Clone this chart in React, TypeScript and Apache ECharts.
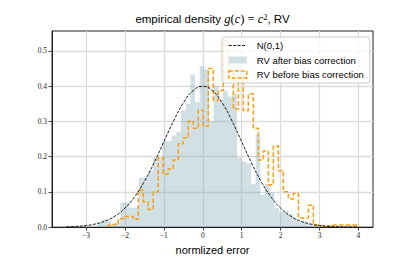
import React, { useEffect, useRef } from "react";
import * as echarts from "echarts";

// histogram of the error after bias correction (50 bins)
const afterStart = -2.72;
const afterBinWidth = 0.12;
const afterHeights = [
  0.012, 0.022, 0.018, 0.007, 0.012, 0.07, 0.07, 0.055, 0.057, 0.14,
  0.14, 0.16, 0.197, 0.197, 0.244, 0.244, 0.26, 0.27, 0.33, 0.35,
  0.433, 0.355, 0.456, 0.447, 0.3, 0.4, 0.36, 0.387, 0.37, 0.378,
  0.197, 0.185, 0.18, 0.123, 0.262, 0.092, 0.123, 0.098, 0.054, 0.043,
  0.046, 0.037, 0.023, 0.016, 0.016, 0.01, 0.005, 0.004, 0.004, 0.003,
];

// histogram of the error before bias correction (50 bins)
const beforeStart = -2.43;
const beforeBinWidth = 0.1286;
const beforeHeights = [
  0.005, 0.008, 0.024, 0.03, 0.03, 0.022, 0.105, 0.072, 0.05, 0.1,
  0.197, 0.15, 0.165, 0.19, 0.236, 0.253, 0.3, 0.28, 0.331, 0.286,
  0.45, 0.36, 0.387, 0.53, 0.44, 0.335, 0.43, 0.33, 0.378, 0.28,
  0.19, 0.216, 0.12, 0.23, 0.16, 0.1, 0.08, 0.096, 0.026, 0.026,
  0.062, 0.006, 0.003, 0.003, 0.003, 0.006, 0.006, 0.006, 0.006, 0.006,
];

// N(0,1) density read at regular points
const normX = [
  -3.5, -3.25, -3, -2.75, -2.5, -2.25, -2, -1.75, -1.5, -1.25, -1, -0.75, -0.5, -0.25, 0,
  0.25, 0.5, 0.75, 1, 1.25, 1.5, 1.75, 2, 2.25, 2.5, 2.75, 3, 3.25, 3.5, 3.75, 4,
];
const normY = [
  0.00087, 0.00203, 0.00443, 0.00909, 0.01753, 0.03174, 0.05399, 0.08628, 0.12952, 0.18265,
  0.24197, 0.30114, 0.35207, 0.38667, 0.39894, 0.38667, 0.35207, 0.30114, 0.24197, 0.18265,
  0.12952, 0.08628, 0.05399, 0.03174, 0.01753, 0.00909, 0.00443, 0.00203, 0.00087, 0.00035,
  0.00013,
];

const xTicks = [-3, -2, -1, 0, 1, 2, 3, 4];
const yTicks = [0, 0.1, 0.2, 0.3, 0.4, 0.5];
const xRange = [-3.875, 4.375];
const yRange = [0, 0.556];

const seriesNames = ["N(0,1)", "RV after bias correction", "RV before bias correction"];

const BLUE = "rgba(120,165,180,0.35)";
const ORANGE = "#ff9d0a";
const NORM_DASH = [3, 1.4];

function stepPoints(start: number, width: number, heights: number[]): number[][] {
  const pts: number[][] = [[start, 0]];
  heights.forEach((h, i) => pts.push([start + i * width, h]));
  pts.push([start + heights.length * width, 0]);
  return pts;
}

export default function App() {
  const ref = useRef<HTMLDivElement>(null);
  useEffect(() => {
    if (!ref.current) return;
    const chart = echarts.init(ref.current, undefined, { renderer: "svg" });
    const tickFont = {
      fontFamily: "Liberation Serif",
      fontSize: 7.5,
      color: "#222",
    };
    const option: any = {
      animation: false,
      backgroundColor: "#fff",
      grid: {
        left: 52,
        right: 42,
        top: 31,
        bottom: 29,
        show: true,
        borderColor: "#222",
        borderWidth: 1,
        backgroundColor: "transparent",
      },
      graphic: [
        {
          type: "text",
          x: 212.5,
          y: 19,
          style: {
            text: "{a|empirical density }{i|g}{u|(}{i|c}{u|) = }{i|c}{s|2}{a|, RV}",
            align: "center",
            verticalAlign: "middle",
            rich: {
              a: { fontFamily: "Liberation Sans", fontSize: 11.5, fill: "#000", color: "#000" },
              i: { fontFamily: "Liberation Serif", fontStyle: "italic", fontSize: 12.5, fill: "#000", color: "#000" },
              u: { fontFamily: "Liberation Serif", fontSize: 12.5, fill: "#000", color: "#000" },
              s: { fontFamily: "Liberation Serif", fontSize: 8.5, verticalAlign: "top", fill: "#000", color: "#000" },
            },
          },
        },
      ],
      legend: {
        orient: "vertical",
        left: 222,
        top: 37,
        itemWidth: 18,
        itemHeight: 7,
        itemGap: 3.5,
        padding: [3, 6, 3, 6],
        backgroundColor: "rgba(255,255,255,0.8)",
        borderColor: "#cccccc",
        borderWidth: 1,
        borderRadius: 3,
        textStyle: {
          fontFamily: "Liberation Sans",
          fontSize: 9.5,
          color: "#000",
          lineHeight: 11,
          padding: [0, 0, 0, 5],
        },
        data: [
          {
            name: seriesNames[0],
            itemStyle: { opacity: 0 },
            lineStyle: { color: "#000", width: 0.9, type: NORM_DASH },
          },
          { name: seriesNames[1], icon: "rect", itemStyle: { color: BLUE, borderWidth: 0 } },
          {
            name: seriesNames[2],
            icon: "rect",
            itemStyle: {
              color: "rgba(255,255,255,0)",
              borderColor: ORANGE,
              borderWidth: 1.5,
              borderType: [4, 2],
            },
          },
        ],
      },
      xAxis: {
        type: "value",
        min: xRange[0],
        max: xRange[1],
        name: "normlized error",
        nameLocation: "middle",
        nameGap: 14,
        nameTextStyle: {
          fontFamily: "Liberation Sans",
          fontSize: 11,
          color: "#000",
          verticalAlign: "top",
        },
        axisLine: { show: true, onZero: false, lineStyle: { color: "#222", width: 1 } },
        axisTick: {
          show: true,
          length: 3.5,
          customValues: xTicks,
          lineStyle: { color: "#222", width: 0.8 },
        },
        axisLabel: {
          ...tickFont,
          margin: 4,
          customValues: xTicks,
          formatter: (v: number) => (v < 0 ? "\u2212" + Math.abs(v) : String(v)),
        },
        splitLine: { show: true, lineStyle: { color: "#dcdcdc", width: 1.3 } },
      },
      yAxis: {
        type: "value",
        min: yRange[0],
        max: yRange[1],
        axisLine: { show: true, onZero: false, lineStyle: { color: "#222", width: 1 } },
        axisTick: {
          show: true,
          length: 3.5,
          customValues: yTicks,
          lineStyle: { color: "#222", width: 0.8 },
        },
        axisLabel: {
          ...tickFont,
          margin: 5,
          customValues: yTicks,
          formatter: (v: number) => v.toFixed(1),
        },
        splitLine: { show: true, lineStyle: { color: "#dcdcdc", width: 1.3 } },
      },
      series: [
        {
          name: seriesNames[1],
          type: "line",
          step: "end",
          symbol: "none",
          color: BLUE,
          lineStyle: { width: 0, opacity: 0 },
          areaStyle: { color: BLUE, opacity: 1 },
          data: stepPoints(afterStart, afterBinWidth, afterHeights),
          z: 2,
        },
        {
          name: seriesNames[2],
          type: "line",
          step: "end",
          symbol: "none",
          color: ORANGE,
          lineStyle: { color: ORANGE, width: 1.5, type: [4.5, 2.2] },
          data: stepPoints(beforeStart, beforeBinWidth, beforeHeights),
          z: 3,
        },
        {
          name: seriesNames[0],
          type: "line",
          smooth: true,
          symbol: "none",
          color: "#000",
          lineStyle: { color: "#000", width: 0.9, type: NORM_DASH },
          data: normX.map((x, i) => [x, normY[i]]),
          z: 4,
        },
      ],
    };
    chart.setOption(option);
    return () => chart.dispose();
  }, []);
  return (
    <div
      ref={ref}
      style={{ position: "absolute", left: 0, top: 0, width: 415, height: 260 }}
    />
  );
}
